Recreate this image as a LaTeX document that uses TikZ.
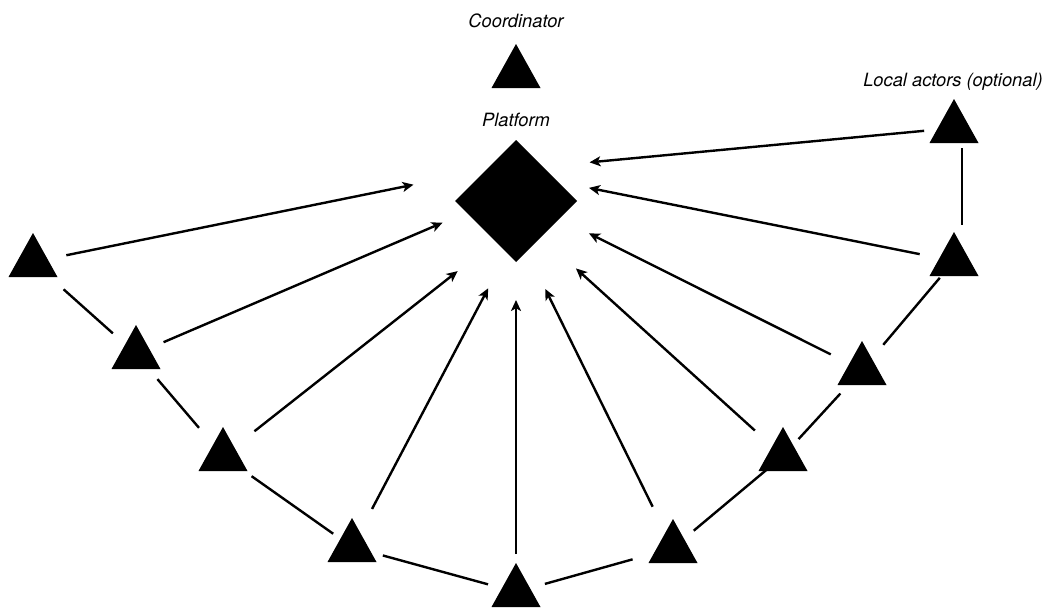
\documentclass[tikz,border=0pt]{standalone}
\usepackage{fontspec}
\usetikzlibrary{arrows.meta,shapes.geometric,calc}
\newfontfamily\labfont{TeX Gyre Heros}
\begin{document}
\begin{tikzpicture}[x=1pt,y=-1pt,
  actor/.style={circle,inner sep=0pt,outer sep=0pt,minimum size=60pt,
    path picture={\fill[black]
      ($(path picture bounding box.center)+(0pt,29pt)$) --
      ($(path picture bounding box.center)+(24.5pt,-15pt)$) --
      ($(path picture bounding box.center)+(-24.5pt,-15pt)$) -- cycle;}},
  hub/.style={diamond,aspect=1,fill=black,inner sep=0pt,outer sep=0pt,
    minimum width=122pt,minimum height=122pt},
  caption/.style={anchor=base,inner sep=0pt,font=\labfont\itshape\fontsize{18.3}{21}\selectfont},
  arr/.style={line width=2.4pt,-{Stealth[length=11pt,width=10pt,inset=2.8pt]}},
  link/.style={line width=2.4pt}
]
\useasboundingbox[fill=white] (0,0) rectangle (1047,608);

% captions
\node[caption] (tC) at (516,27) {Coordinator};
\node[caption] (tP) at (516,126.5) {Platform};
\node[caption] (tLA) at (953,86) {Local actors (optional)};

% platform and actors
\node[hub] (P) at (516,201) {};
\node[actor] (C)  at (516,73)  {};
\node[actor] (LA) at (954,128) {};
\node[actor] (L1) at (33,262)  {};
\node[actor] (L2) at (136,354) {};
\node[actor] (L3) at (223,456) {};
\node[actor] (L4) at (352,547) {};
\node[actor] (B)  at (516,592) {};
\node[actor] (R4) at (673,548) {};
\node[actor] (R3) at (783,456) {};
\node[actor] (R2) at (862,370) {};
\node[actor] (R1) at (954,261) {};

% flows towards the platform
\draw[arr,shorten <=4pt,shorten >=74pt]  (L1) -- (P.134.4);
\draw[arr,shorten <=0pt,shorten >=26pt]  (L2) -- (P.193.5);
\draw[arr,shorten <=10pt,shorten >=48pt] (L3) -- (P.243.4);
\draw[arr,shorten <=13pt,shorten >=40pt] (L4) -- (P.260.6);
\draw[arr,shorten <=8pt,shorten >=38pt]  (B)  -- (P.270);
\draw[arr,shorten <=16pt,shorten >=42pt] (R4) -- (P.282.5);
\draw[arr,shorten <=8pt,shorten >=47pt]  (R3) -- (P.305.7);
\draw[arr,shorten <=5pt,shorten >=33pt]  (R2) -- (P.338.1);
\draw[arr,shorten <=5pt,shorten >=32pt]  (R1) -- (P.25.8);
\draw[arr,shorten <=0pt,shorten >=47pt]  (LA) -- (P.52.2);

% chain of neighbouring actors
\draw[link,shorten <=-10pt,shorten >=6pt] ([xshift=8pt]LA.south) -- ([xshift=8pt]R1.north);
\draw[link,shorten <=-8pt,shorten >=3pt]  (R1) -- (R2);
\draw[link,shorten <=2pt,shorten >=-7pt]  (R2) -- (R3);
\draw[link,shorten <=-9pt,shorten >=-3pt] (R3) -- (R4);
\draw[link,shorten <=12pt,shorten >=0pt]  (R4) -- (B);
\draw[link,shorten <=-1pt,shorten >=2pt]  (B)  -- (L4);
\draw[link,shorten <=5pt,shorten >=-7pt]  (L3) -- (L4);
\draw[link,shorten <=3pt,shorten >=7pt]   (L2) -- (L3);
\draw[link,shorten <=11pt,shorten >=1pt]  (L1) -- (L2);
\end{tikzpicture}
\end{document}
